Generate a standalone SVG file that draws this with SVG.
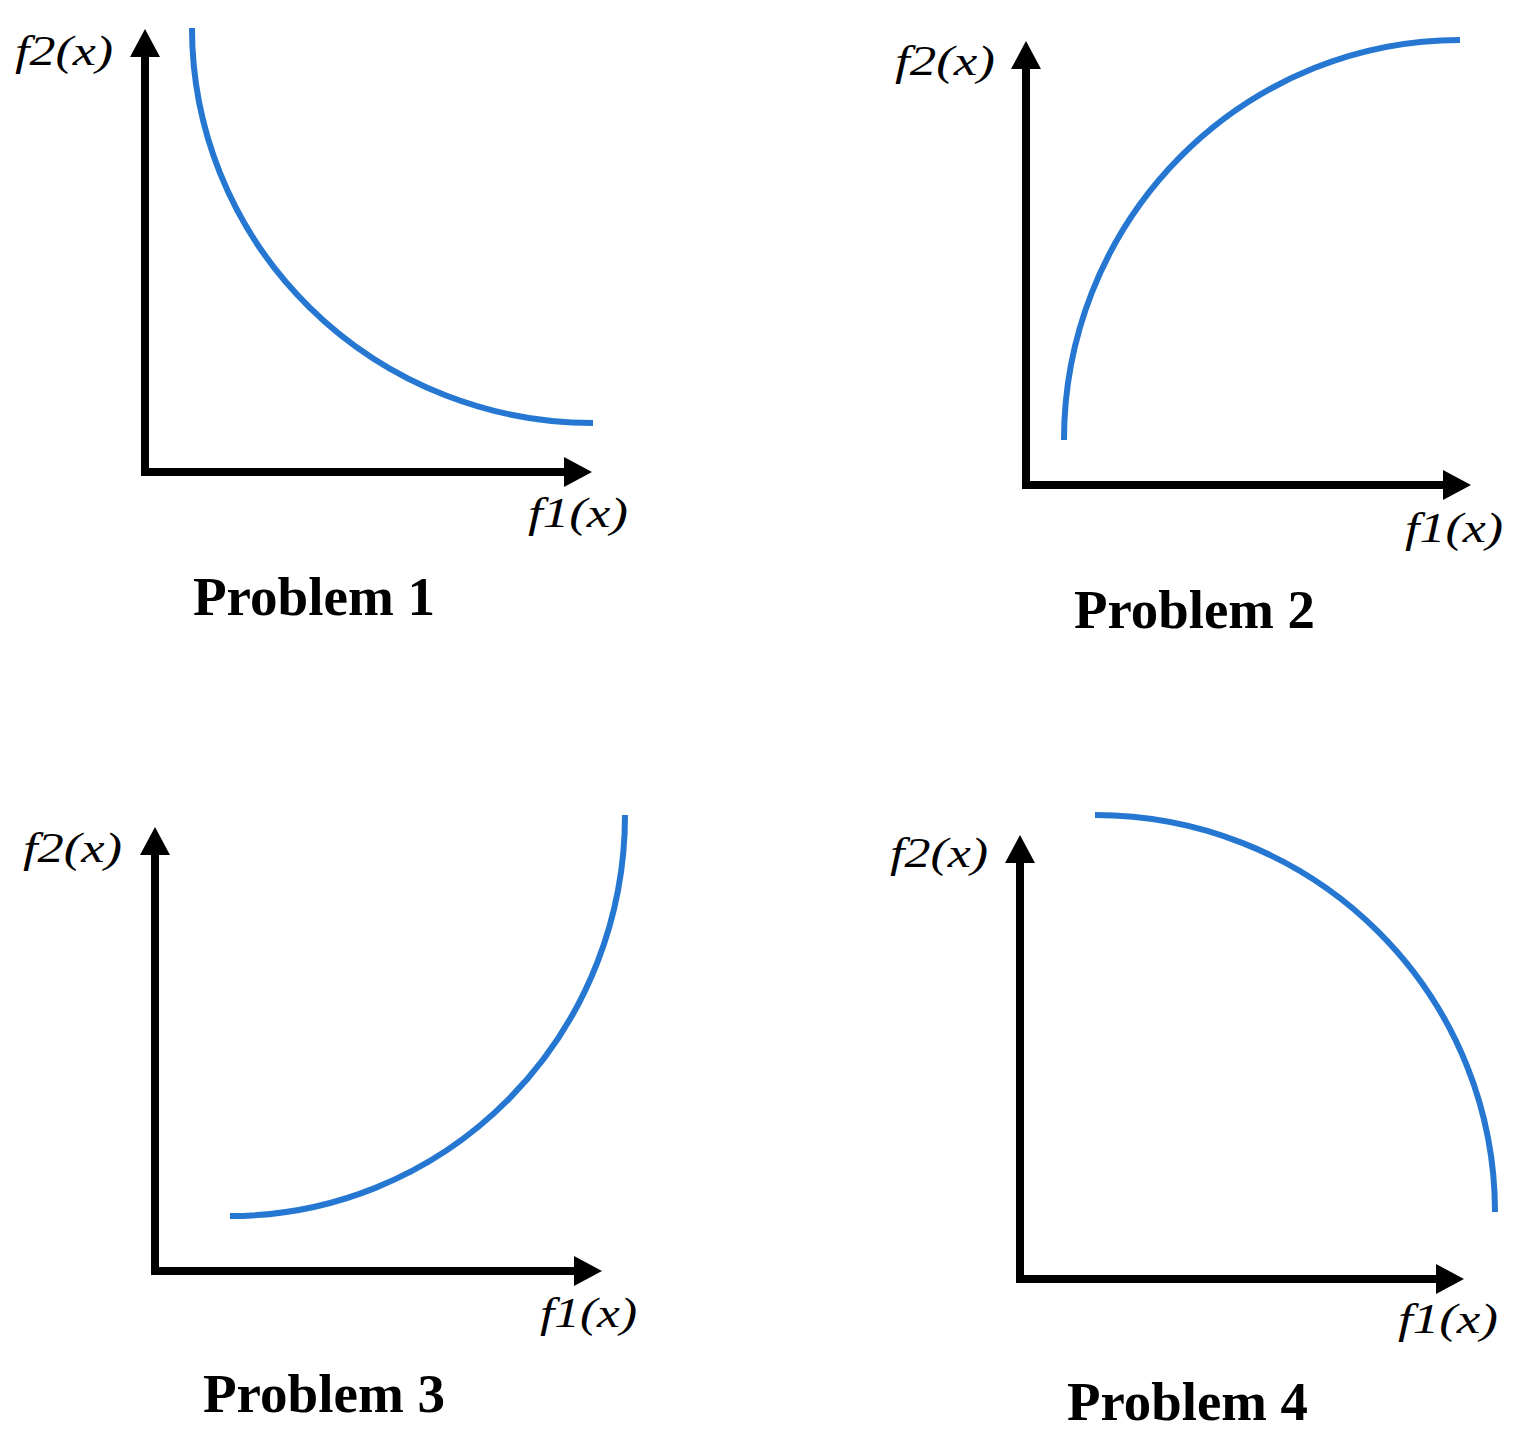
<svg xmlns="http://www.w3.org/2000/svg" width="1528" height="1449" viewBox="0 0 1528 1449">
<style>
.axis{fill:none;stroke:#000;stroke-width:8;stroke-linejoin:miter;marker-start:url(#ah);marker-end:url(#ah)}
.curve{fill:none;stroke:#2677d2;stroke-width:6}
.lbl{font-family:"Liberation Serif","DejaVu Serif",serif;font-style:italic;font-size:43px;fill:#000}
.title{font-family:"Liberation Serif","DejaVu Serif",serif;font-weight:bold;font-size:54px;fill:#000}
</style>
<defs>
<marker id="ah" markerUnits="userSpaceOnUse" viewBox="0 -15 28 30" markerWidth="28" markerHeight="30" refX="1" refY="0" orient="auto-start-reverse">
<path d="M0,-15 L28,0 L0,15 Z" fill="#000"/>
</marker>
</defs>
<rect width="1528" height="1449" fill="#fff"/>
<g id="connectors">
<path class="axis" d="M145,56 V472 H565"/>
<path class="axis" d="M1026,68 V485 H1444"/>
<path class="axis" d="M155,854 V1271 H575"/>
<path class="axis" d="M1020,862 V1279 H1437"/>
</g>
<g id="problem1">
<path class="curve" d="M192,28 A401,395 0 0 0 593,423"/>
<text class="lbl" x="15" y="65" textLength="98" lengthAdjust="spacingAndGlyphs">f2(x)</text>
<text class="lbl" x="528" y="527" textLength="100" lengthAdjust="spacingAndGlyphs">f1(x)</text>
<text class="title" x="193" y="615" textLength="242" lengthAdjust="spacingAndGlyphs">Problem 1</text>
</g>
<g id="problem2">
<path class="curve" d="M1064,440 A396,400 0 0 1 1460,40"/>
<text class="lbl" x="895" y="75" textLength="100" lengthAdjust="spacingAndGlyphs">f2(x)</text>
<text class="lbl" x="1405" y="542" textLength="98" lengthAdjust="spacingAndGlyphs">f1(x)</text>
<text class="title" x="1074" y="628" textLength="241" lengthAdjust="spacingAndGlyphs">Problem 2</text>
</g>
<g id="problem3">
<path class="curve" d="M230,1216 A395,401 0 0 0 625,815"/>
<text class="lbl" x="23" y="862" textLength="99" lengthAdjust="spacingAndGlyphs">f2(x)</text>
<text class="lbl" x="540" y="1327" textLength="97" lengthAdjust="spacingAndGlyphs">f1(x)</text>
<text class="title" x="203" y="1412" textLength="242" lengthAdjust="spacingAndGlyphs">Problem 3</text>
</g>
<g id="problem4">
<path class="curve" d="M1095,815 A400,397 0 0 1 1495,1212"/>
<text class="lbl" x="890" y="867" textLength="98" lengthAdjust="spacingAndGlyphs">f2(x)</text>
<text class="lbl" x="1398" y="1333" textLength="100" lengthAdjust="spacingAndGlyphs">f1(x)</text>
<text class="title" x="1067" y="1420" textLength="241" lengthAdjust="spacingAndGlyphs">Problem 4</text>
</g>
</svg>
